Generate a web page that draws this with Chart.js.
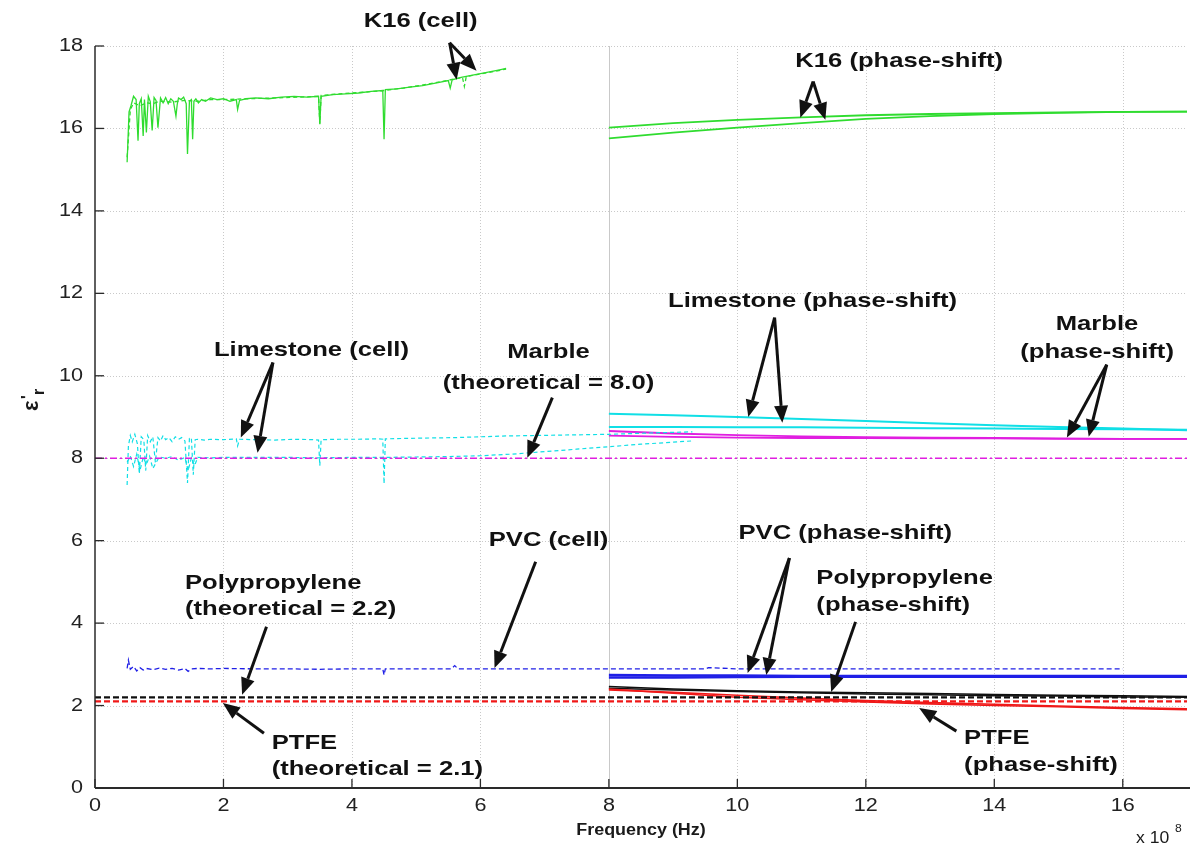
<!DOCTYPE html>
<html>
<head>
<meta charset="utf-8">
<script src="https://cdn.jsdelivr.net/npm/chart.js@4.4.1/dist/chart.umd.min.js"></script>
<style>
  html, body { margin: 0; padding: 0; background: #ffffff; }
  canvas { display: block; }
</style>
</head>
<body>
<canvas id="chart" width="1192" height="850"></canvas>
<script>
// ---------------- axis ticks ----------------
const xTickValues = [0, 2, 4, 6, 8, 10, 12, 14, 16];
const yTickValues = [0, 2, 4, 6, 8, 10, 12, 14, 16, 18];

// ---------------- theoretical values (flat lines across the band) ----------------
const theoryFreq = [0, 17];
const marbleTheory = [8.0, 8.0];
const polypropyleneTheory = [2.2, 2.2];
const ptfeTheory = [2.1, 2.1];

// ---------------- coaxial cell measurements (x in 1e8 Hz) ----------------
const k16CellFreqA = [0.50,0.53,0.56,0.60,0.64,0.67,0.69,0.72,0.75,0.77,0.80,0.83,0.86,0.89,0.92,0.95,0.98,1.02,1.06,1.10,1.14,1.18,1.22,1.26,1.28,1.30,1.34,1.38,1.42,1.44,1.47,1.50,1.52,1.54,1.57,1.61,1.66,1.72,1.80,1.90,2.00,2.10,2.20,2.22,2.25,2.35,2.50,2.70,2.90,3.10,3.30,3.48,3.50,3.52,3.70,3.90,4.10,4.30,4.48,4.50,4.52,4.70,4.90,5.10,5.30,5.50,5.53,5.56,5.70,5.90,6.10,6.30,6.40];
const k16CellPermA = [15.18,16.40,16.55,16.78,16.70,15.70,16.60,16.72,15.82,16.70,15.90,16.78,16.65,15.95,16.75,16.68,16.02,16.74,16.62,16.75,16.60,16.72,16.66,16.30,16.58,16.74,16.70,16.76,16.60,15.38,16.66,16.70,15.74,16.66,16.72,16.62,16.70,16.66,16.74,16.70,16.72,16.66,16.70,16.46,16.68,16.72,16.74,16.72,16.76,16.78,16.76,16.78,16.10,16.78,16.82,16.84,16.86,16.90,16.92,15.74,16.94,16.96,17.00,17.04,17.10,17.16,16.98,17.18,17.24,17.30,17.36,17.42,17.46];
const k16CellFreqB = [0.50,0.55,0.60,0.70,0.80,0.90,1.00,1.20,1.40,1.60,1.80,2.00,2.40,2.80,3.20,3.48,3.50,3.52,3.80,4.20,4.50,4.80,5.20,5.60,5.72,5.75,5.78,6.00,6.20,6.40];
const k16CellPermB = [15.30,16.45,16.62,16.55,16.62,16.60,16.66,16.64,16.68,16.66,16.70,16.70,16.72,16.74,16.76,16.78,16.12,16.80,16.84,16.88,16.92,16.98,17.08,17.20,17.24,17.02,17.26,17.32,17.38,17.44];

const limestoneCellFreqA = [0.50,0.52,0.55,0.58,0.62,0.66,0.69,0.72,0.76,0.79,0.82,0.86,0.90,0.94,0.98,1.02,1.06,1.10,1.15,1.20,1.25,1.30,1.35,1.40,1.44,1.47,1.50,1.53,1.56,1.60,1.70,1.80,2.00,2.20,2.22,2.25,2.50,2.80,3.10,3.40,3.48,3.50,3.52,3.80,4.10,4.40,4.48,4.50,4.52,4.80,5.20,5.60,6.00,6.40,6.80,7.20,7.60,8.00,8.40,8.80,9.30];
const limestoneCellPermA = [7.35,8.30,8.55,8.40,8.58,8.35,7.62,8.52,8.45,7.70,8.55,8.40,8.52,7.90,8.50,8.42,8.55,8.45,8.50,8.40,8.52,8.46,8.50,8.42,7.40,8.48,8.50,7.60,8.45,8.46,8.44,8.46,8.45,8.47,8.30,8.46,8.45,8.44,8.46,8.45,8.44,7.82,8.45,8.46,8.46,8.47,8.46,7.38,8.47,8.48,8.49,8.50,8.52,8.54,8.55,8.56,8.57,8.58,8.60,8.62,8.64];
const limestoneCellFreqB = [0.50,0.55,0.60,0.65,0.70,0.75,0.80,0.85,0.90,1.00,1.10,1.20,1.30,1.40,1.45,1.50,1.55,1.60,1.80,2.00,2.50,3.00,3.50,4.00,4.50,5.00,5.50,6.00,6.50,7.00,7.50,8.00,8.50,9.00,9.30];
const limestoneCellPermB = [7.90,8.05,7.80,8.10,7.70,8.02,7.85,8.05,7.75,8.03,8.00,8.04,7.95,8.02,7.70,8.01,7.82,8.02,8.01,8.02,8.02,8.02,8.01,8.02,8.02,8.03,8.04,8.06,8.10,8.16,8.22,8.28,8.34,8.39,8.42];

const pvcCellFreq = [0.50,0.52,0.55,0.60,0.65,0.70,0.75,0.80,0.90,1.00,1.10,1.20,1.30,1.40,1.45,1.50,1.60,1.80,2.00,2.50,3.00,3.50,4.00,4.48,4.50,4.52,5.00,5.55,5.60,5.65,6.00,7.00,8.00,9.00,9.50,9.55,10.00,11.00,12.00,13.00,14.00,15.00,16.00];
const pvcCellPerm = [2.90,3.10,2.88,2.95,2.84,2.92,2.86,2.90,2.87,2.91,2.88,2.90,2.86,2.90,2.83,2.89,2.90,2.89,2.90,2.89,2.89,2.88,2.89,2.89,2.74,2.89,2.89,2.89,2.97,2.89,2.89,2.89,2.89,2.89,2.89,2.92,2.89,2.89,2.89,2.89,2.89,2.89,2.89];

// ---------------- phase-shift measurements (x in 1e8 Hz) ----------------
const psFreq = [8, 9, 10, 11, 12, 13, 14, 15, 16, 17];
const k16PsA = [16.02, 16.13, 16.21, 16.27, 16.32, 16.35, 16.37, 16.39, 16.40, 16.41];
const k16PsB = [15.76, 15.90, 16.02, 16.13, 16.23, 16.30, 16.35, 16.38, 16.40, 16.41];
const limestonePsA = [9.08, 9.04, 9.00, 8.95, 8.90, 8.85, 8.80, 8.76, 8.72, 8.68];
const limestonePsB = [8.76, 8.76, 8.75, 8.75, 8.74, 8.73, 8.72, 8.71, 8.70, 8.69];
const marblePsA = [8.66, 8.60, 8.56, 8.53, 8.51, 8.50, 8.49, 8.48, 8.47, 8.47];
const marblePsB = [8.55, 8.52, 8.50, 8.49, 8.49, 8.48, 8.48, 8.47, 8.47, 8.47];
const pvcPsA = [2.74, 2.73, 2.73, 2.72, 2.72, 2.72, 2.72, 2.72, 2.72, 2.72];
const pvcPsB = [2.68, 2.68, 2.69, 2.70, 2.70, 2.70, 2.70, 2.70, 2.70, 2.70];
const polypropylenePsA = [2.46, 2.40, 2.36, 2.33, 2.31, 2.29, 2.27, 2.25, 2.24, 2.22];
const polypropylenePsB = [2.42, 2.38, 2.34, 2.31, 2.28, 2.26, 2.24, 2.23, 2.21, 2.20];
const ptfePsA = [2.40, 2.30, 2.20, 2.14, 2.09, 2.04, 2.00, 1.97, 1.93, 1.90];
const ptfePsB = [2.38, 2.32, 2.25, 2.18, 2.12, 2.07, 2.03, 1.99, 1.95, 1.92];

// ---------------- callout texts and arrows (data coordinates) ----------------
const calloutTexts = [
  { text: 'K16 (cell)', x: 5.07, y: 18.59, align: 'center' },
  { text: 'K16 (phase-shift)', x: 12.52, y: 17.62, align: 'center' },
  { text: 'Limestone (cell)', x: 3.37, y: 10.63, align: 'center' },
  { text: 'Marble', x: 7.06, y: 10.56, align: 'center' },
  { text: '(theoretical = 8.0)', x: 7.06, y: 9.83, align: 'center' },
  { text: 'Limestone (phase-shift)', x: 11.17, y: 11.80, align: 'center' },
  { text: 'Marble', x: 15.60, y: 11.24, align: 'center' },
  { text: '(phase-shift)', x: 15.60, y: 10.58, align: 'center' },
  { text: 'PVC (cell)', x: 7.06, y: 6.02, align: 'center' },
  { text: 'Polypropylene', x: 1.40, y: 4.98, align: 'left' },
  { text: '(theoretical = 2.2)', x: 1.40, y: 4.34, align: 'left' },
  { text: 'PTFE', x: 2.75, y: 1.09, align: 'left' },
  { text: '(theoretical = 2.1)', x: 2.75, y: 0.46, align: 'left' },
  { text: 'PVC (phase-shift)', x: 11.68, y: 6.17, align: 'center' },
  { text: 'Polypropylene', x: 11.23, y: 5.10, align: 'left' },
  { text: '(phase-shift)', x: 11.23, y: 4.44, align: 'left' },
  { text: 'PTFE', x: 13.53, y: 1.21, align: 'left' },
  { text: '(phase-shift)', x: 13.53, y: 0.56, align: 'left' }
];
const calloutArrows = [
  { from: [5.52, 18.08], to: [5.63, 17.18] },
  { from: [5.52, 18.08], to: [5.94, 17.40] },
  { from: [11.18, 17.14], to: [10.98, 16.26] },
  { from: [11.18, 17.14], to: [11.37, 16.21] },
  { from: [2.77, 10.32], to: [2.27, 8.50] },
  { from: [2.77, 10.32], to: [2.53, 8.13] },
  { from: [7.12, 9.47], to: [6.73, 8.01] },
  { from: [10.58, 11.41], to: [10.17, 9.00] },
  { from: [10.58, 11.41], to: [10.70, 8.86] },
  { from: [15.75, 10.27], to: [15.13, 8.50] },
  { from: [15.75, 10.27], to: [15.47, 8.52] },
  { from: [6.86, 5.49], to: [6.22, 2.91] },
  { from: [2.67, 3.91], to: [2.29, 2.26] },
  { from: [2.63, 1.33], to: [1.99, 2.06] },
  { from: [10.81, 5.58], to: [10.16, 2.79] },
  { from: [10.81, 5.58], to: [10.45, 2.74] },
  { from: [11.84, 4.03], to: [11.46, 2.33] },
  { from: [13.41, 1.38], to: [12.83, 1.94] }
];

// ---------------- styling ----------------
const GREEN = '#2fdc2f';
const CYAN = '#10dfe6';
const MAGENTA = '#e01ee0';
const BLUE = '#1f1fe6';
const RED = '#f01818';
const BLACK = '#101010';
const TEXT_STRETCH = 1.22;
const FONT_FAMILY = '"Liberation Sans", Arial, Helvetica, sans-serif';

const pts = (xs, ys) => xs.map((x, i) => ({ x: x, y: ys[i] }));

function series(label, xs, ys, color, width, dash) {
  return {
    label: label,
    data: pts(xs, ys),
    borderColor: color,
    backgroundColor: color,
    borderWidth: width,
    borderDash: dash || [],
    pointRadius: 0,
    tension: 0,
    fill: false
  };
}

const datasets = [
  series('Marble (theoretical = 8.0)', theoryFreq, marbleTheory, MAGENTA, 1.6, [7, 3, 2, 3]),
  series('Polypropylene (theoretical = 2.2)', theoryFreq, polypropyleneTheory, BLACK, 2.2, [6, 3]),
  series('PTFE (theoretical = 2.1)', theoryFreq, ptfeTheory, RED, 2.2, [6, 3]),
  series('K16 (cell) a', k16CellFreqA, k16CellPermA, GREEN, 1.3),
  series('K16 (cell) b', k16CellFreqB, k16CellPermB, GREEN, 1.3, [4, 3]),
  series('Limestone (cell) a', limestoneCellFreqA, limestoneCellPermA, CYAN, 1.2, [4, 3]),
  series('Limestone (cell) b', limestoneCellFreqB, limestoneCellPermB, CYAN, 1.2, [4, 3]),
  series('PVC (cell)', pvcCellFreq, pvcCellPerm, BLUE, 1.3, [5, 3]),
  series('K16 (phase-shift) a', psFreq, k16PsA, GREEN, 1.8),
  series('K16 (phase-shift) b', psFreq, k16PsB, GREEN, 1.8),
  series('Limestone (phase-shift) a', psFreq, limestonePsA, CYAN, 2),
  series('Limestone (phase-shift) b', psFreq, limestonePsB, CYAN, 2),
  series('Marble (phase-shift) a', psFreq, marblePsA, MAGENTA, 1.8),
  series('Marble (phase-shift) b', psFreq, marblePsB, MAGENTA, 1.8),
  series('PVC (phase-shift) a', psFreq, pvcPsA, BLUE, 2.4),
  series('PVC (phase-shift) b', psFreq, pvcPsB, BLUE, 2.4),
  series('PTFE (phase-shift) a', psFreq, ptfePsA, RED, 1.6),
  series('PTFE (phase-shift) b', psFreq, ptfePsB, RED, 1.6),
  series('Polypropylene (phase-shift) a', psFreq, polypropylenePsA, BLACK, 1.5),
  series('Polypropylene (phase-shift) b', psFreq, polypropylenePsB, BLACK, 1.5)
];

// text drawn with a slight horizontal stretch
function stretchedText(ctx, text, x, y, align, font, stretch) {
  ctx.save();
  ctx.font = font;
  ctx.textAlign = align;
  ctx.textBaseline = 'middle';
  ctx.translate(x, y);
  ctx.scale(stretch, 1);
  ctx.fillText(text, 0, 0);
  ctx.restore();
}

// frame: grid, axes, inward ticks
const framePlugin = {
  id: 'frame',
  beforeDatasetsDraw(chart) {
    const { ctx, chartArea: a, scales: { x, y } } = chart;
    ctx.save();
    ctx.lineWidth = 1;
    ctx.strokeStyle = '#c9c9c9';
    xTickValues.forEach(v => {
      if (v === 0) return;
      const px = Math.round(x.getPixelForValue(v)) + 0.5;
      ctx.setLineDash(v === 8 ? [] : [1, 2]);
      ctx.beginPath(); ctx.moveTo(px, a.top); ctx.lineTo(px, a.bottom); ctx.stroke();
    });
    yTickValues.forEach(v => {
      if (v === 0) return;
      const py = Math.round(y.getPixelForValue(v)) + 0.5;
      ctx.setLineDash([1, 2]);
      ctx.beginPath(); ctx.moveTo(a.left, py); ctx.lineTo(a.right, py); ctx.stroke();
    });
    ctx.restore();
  },
  afterDatasetsDraw(chart) {
    const { ctx, chartArea: a, scales: { x, y } } = chart;
    ctx.save();
    ctx.setLineDash([]);
    ctx.strokeStyle = '#2a2a2a';
    // axis lines
    ctx.lineWidth = 1.5;
    ctx.beginPath(); ctx.moveTo(a.left, a.top); ctx.lineTo(a.left, a.bottom); ctx.stroke();
    ctx.lineWidth = 2;
    ctx.beginPath(); ctx.moveTo(a.left, a.bottom); ctx.lineTo(a.right + 3, a.bottom); ctx.stroke();
    // inward tick marks
    ctx.lineWidth = 1.3;
    xTickValues.forEach(v => {
      const px = x.getPixelForValue(v);
      ctx.beginPath(); ctx.moveTo(px, a.bottom); ctx.lineTo(px, a.bottom - 9); ctx.stroke();
    });
    yTickValues.forEach(v => {
      const py = y.getPixelForValue(v);
      ctx.beginPath(); ctx.moveTo(a.left, py); ctx.lineTo(a.left + 9, py); ctx.stroke();
    });
    // tick labels
    ctx.fillStyle = '#222222';
    const tickFont = '18px ' + FONT_FAMILY;
    xTickValues.forEach(v => {
      stretchedText(ctx, String(v), x.getPixelForValue(v), a.bottom + 18, 'center', tickFont, 1.2);
    });
    yTickValues.forEach(v => {
      stretchedText(ctx, String(v), a.left - 12, y.getPixelForValue(v), 'right', tickFont, 1.2);
    });
    // axis titles
    ctx.fillStyle = '#1a1a1a';
    stretchedText(ctx, 'Frequency (Hz)', (a.left + a.right) / 2, 831, 'center', 'bold 16px ' + FONT_FAMILY, 1.12);
    stretchedText(ctx, 'x 10', 1136, 839, 'left', '16px ' + FONT_FAMILY, 1.1);
    stretchedText(ctx, '8', 1175, 829, 'left', '11px ' + FONT_FAMILY, 1.1);
    // y-axis title: epsilon prime, subscript r
    ctx.save();
    ctx.translate(31, 397);
    ctx.rotate(-Math.PI / 2);
    ctx.textBaseline = 'alphabetic';
    ctx.textAlign = 'left';
    ctx.font = 'bold 22px ' + FONT_FAMILY;
    ctx.fillText('\u03B5', -14, 7);
    ctx.font = 'bold 16px ' + FONT_FAMILY;
    ctx.fillText('\'', -2, 2);
    ctx.fillText('r', 2, 13);
    ctx.restore();
    ctx.restore();
  }
};

// callouts: bold labels with black arrows
const calloutPlugin = {
  id: 'callouts',
  afterDraw(chart) {
    const { ctx, scales: { x, y } } = chart;
    ctx.save();
    ctx.fillStyle = '#111111';
    const font = 'bold 21px ' + FONT_FAMILY;
    calloutTexts.forEach(t => {
      stretchedText(ctx, t.text, x.getPixelForValue(t.x), y.getPixelForValue(t.y), t.align, font, TEXT_STRETCH);
    });
    ctx.strokeStyle = '#111111';
    ctx.lineWidth = 3;
    ctx.setLineDash([]);
    calloutArrows.forEach(ar => {
      const x0 = x.getPixelForValue(ar.from[0]), y0 = y.getPixelForValue(ar.from[1]);
      const x1 = x.getPixelForValue(ar.to[0]), y1 = y.getPixelForValue(ar.to[1]);
      const ang = Math.atan2(y1 - y0, x1 - x0);
      const headLen = 17, headHalf = 7;
      const bx = x1 - headLen * Math.cos(ang), by = y1 - headLen * Math.sin(ang);
      ctx.beginPath(); ctx.moveTo(x0, y0); ctx.lineTo(bx, by); ctx.stroke();
      ctx.beginPath();
      ctx.moveTo(x1, y1);
      ctx.lineTo(bx + headHalf * Math.sin(ang), by - headHalf * Math.cos(ang));
      ctx.lineTo(bx - headHalf * Math.sin(ang), by + headHalf * Math.cos(ang));
      ctx.closePath();
      ctx.fill();
    });
    ctx.restore();
  }
};

new Chart(document.getElementById('chart'), {
  type: 'line',
  data: { datasets: datasets },
  options: {
    responsive: false,
    animation: false,
    devicePixelRatio: 1,
    layout: { padding: { left: 95, right: 5, top: 46, bottom: 62 } },
    plugins: { legend: { display: false }, tooltip: { enabled: false } },
    scales: {
      x: { type: 'linear', min: 0, max: 17, display: false },
      y: { type: 'linear', min: 0, max: 18, display: false }
    }
  },
  plugins: [framePlugin, calloutPlugin]
});
</script>
</body>
</html>
